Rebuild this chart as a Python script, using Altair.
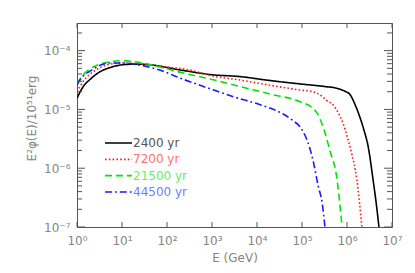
import altair as alt
import pandas as pd

series = ["2400 yr", "7200 yr", "21500 yr", "44500 yr"]
colors = ["#000000", "#ff1a1a", "#00e600", "#1a1aff"]
text_colors = ["#555555", "#ff7070", "#66ee66", "#6f7fff"]
dashes = [[1, 0], [1.6, 2.2], [7, 4], [7, 3, 1.8, 3]]

# log10(E/GeV) and log10(E^2 phi / 1e51 erg)
logE_2400 = [0, 0.14, 0.29, 0.51, 0.73, 1.02, 1.3, 1.6, 2.3, 3.0, 3.6, 4.3, 5.0, 5.5, 5.77, 5.95, 6.07, 6.18, 6.29, 6.38, 6.47, 6.58, 6.65, 6.71]
logF_2400 = [-4.81, -4.61, -4.49, -4.36, -4.29, -4.24, -4.23, -4.24, -4.33, -4.41, -4.44, -4.51, -4.57, -4.61, -4.64, -4.69, -4.75, -4.92, -5.14, -5.36, -5.63, -6.2, -6.6, -7.0]

logE_7200 = [0, 0.14, 0.29, 0.51, 0.73, 1.02, 1.3, 2.0, 2.44, 3.0, 3.62, 4.3, 4.96, 5.24, 5.45, 5.55, 5.69, 5.8, 5.91, 6.0, 6.1, 6.22, 6.28, 6.33]
logF_7200 = [-4.70, -4.52, -4.40, -4.29, -4.23, -4.21, -4.22, -4.28, -4.32, -4.43, -4.50, -4.59, -4.67, -4.70, -4.78, -4.85, -4.92, -5.05, -5.23, -5.45, -5.74, -6.2, -6.6, -7.0]

logE_21500 = [0, 0.14, 0.29, 0.51, 0.73, 1.02, 1.3, 2.0, 2.3, 3.0, 3.62, 4.3, 4.96, 5.24, 5.35, 5.47, 5.62, 5.78, 5.84, 5.89]
logF_21500 = [-4.56, -4.41, -4.31, -4.23, -4.19, -4.17, -4.19, -4.31, -4.37, -4.49, -4.61, -4.74, -4.87, -4.98, -5.08, -5.30, -5.70, -6.2, -6.6, -7.0]

logE_44500 = [0, 0.14, 0.29, 0.51, 0.73, 1.02, 1.33, 1.84, 2.3, 3.0, 3.5, 4.07, 4.51, 4.8, 4.96, 5.1, 5.24, 5.36, 5.45, 5.51]
logF_44500 = [-4.58, -4.43, -4.35, -4.25, -4.21, -4.21, -4.24, -4.33, -4.47, -4.66, -4.79, -4.92, -5.05, -5.19, -5.30, -5.50, -5.85, -6.3, -6.6, -7.0]

x_ticks = [1, 10, 100, 1e3, 1e4, 1e5, 1e6, 1e7]
y_major = [1e-7, 1e-6, 1e-5, 1e-4]
y_minor = [m * 10.0 ** e for e in range(-7, -3) for m in range(2, 10) if m * 10.0 ** e < 2.95e-4]

rows = []
for name, le, lf in [(series[0], logE_2400, logF_2400), (series[1], logE_7200, logF_7200),
                     (series[2], logE_21500, logF_21500), (series[3], logE_44500, logF_44500)]:
    for i, (a, b) in enumerate(zip(le, lf)):
        rows.append({"series": name, "E": 10 ** a, "F": 10 ** b, "i": i})
df = pd.DataFrame(rows)

W, H = 315, 204
gray = "#858585"
font = "DejaVu Sans"

xs = alt.Scale(type="log", domain=[1, 1e7])
ys = alt.Scale(type="log", domain=[1e-7, 2.95e-4])

sup = "['⁰','¹','²','³','⁴','⁵','⁶','⁷','⁸','⁹']"
xaxis = alt.Axis(values=x_ticks, ticks=False, domain=False, grid=False,
                 labelExpr="'10' + " + sup + "[round(log(datum.value)/LN10)]",
                 labelColor=gray, labelFont=font, labelFontSize=12, labelPadding=8,
                 title="E (GeV)", titleColor=gray, titleFont=font, titleFontSize=12,
                 titleFontWeight="normal", titlePadding=6, labelFlush=False)
yaxis = alt.Axis(values=y_major, ticks=False, domain=False, grid=False,
                 labelExpr="'10⁻' + " + sup + "[round(-log(datum.value)/LN10)]",
                 labelColor=gray, labelFont=font, labelFontSize=12, labelPadding=7,
                 title="E²φ(E)/10⁵¹erg", titleColor=gray, titleFont=font, titleFontSize=12,
                 titleFontWeight="normal", titleX=-46, titleY=95, titleBaseline="middle",
                 titleAlign="center", titleAngle=270, labelFlush=False)

lines = alt.Chart(df).mark_line(strokeWidth=1.6, clip=True, interpolate="monotone").encode(
    x=alt.X("E:Q", scale=xs, axis=xaxis),
    y=alt.Y("F:Q", scale=ys, axis=yaxis),
    color=alt.Color("series:N", scale=alt.Scale(domain=series, range=colors), legend=None),
    strokeDash=alt.StrokeDash("series:N", scale=alt.Scale(domain=series, range=dashes), legend=None),
    order="i:Q",
)

tick_color = "#555555"
xt = pd.DataFrame({"v": x_ticks})
ymaj = pd.DataFrame({"v": y_major})
ymin = pd.DataFrame({"v": y_minor})

def xtick(y0, y1):
    return alt.Chart(xt).mark_rule(color=tick_color, strokeWidth=1).encode(
        x=alt.X("v:Q", scale=xs, axis=xaxis), y=alt.value(y0), y2=alt.value(y1))

def ytick(d, x0, x1):
    return alt.Chart(d).mark_rule(color=tick_color, strokeWidth=1).encode(
        y=alt.Y("v:Q", scale=ys, axis=yaxis), x=alt.value(x0), x2=alt.value(x1))

ticks = [xtick(H, H - 5), xtick(0, 5),
         ytick(ymaj, 0, 8), ytick(ymaj, W, W - 8),
         ytick(ymin, 0, 5), ytick(ymin, W, W - 5)]

main = alt.layer(lines, *ticks)

leg = pd.DataFrame({"series": series})
ly = alt.Y("series:N", scale=alt.Scale(type="point", domain=series, range=[120, 169], padding=0), axis=None)
leg_lines = alt.Chart(leg).mark_rule(strokeWidth=1.6).encode(
    y=ly, x=alt.value(28), x2=alt.value(55),
    color=alt.Color("series:N", scale=alt.Scale(domain=series, range=colors), legend=None),
    strokeDash=alt.StrokeDash("series:N", scale=alt.Scale(domain=series, range=dashes), legend=None),
)
leg_text = alt.Chart(leg).mark_text(align="left", baseline="middle", font=font, fontSize=12).encode(
    y=ly, x=alt.value(56), text="series:N",
    color=alt.Color("series:N", scale=alt.Scale(domain=series, range=text_colors), legend=None),
)
legend = alt.layer(leg_lines, leg_text).resolve_scale(color="independent")

chart = alt.layer(main, legend).resolve_scale(y="independent").properties(
    width=W, height=H, autosize="none",
    padding={"left": 69, "top": 15, "right": 15, "bottom": 38},
).configure_view(stroke=tick_color, strokeWidth=1).configure_axis(labelFontWeight="normal")

chart.save("out.html", embed_options={"renderer": "svg", "actions": False})
